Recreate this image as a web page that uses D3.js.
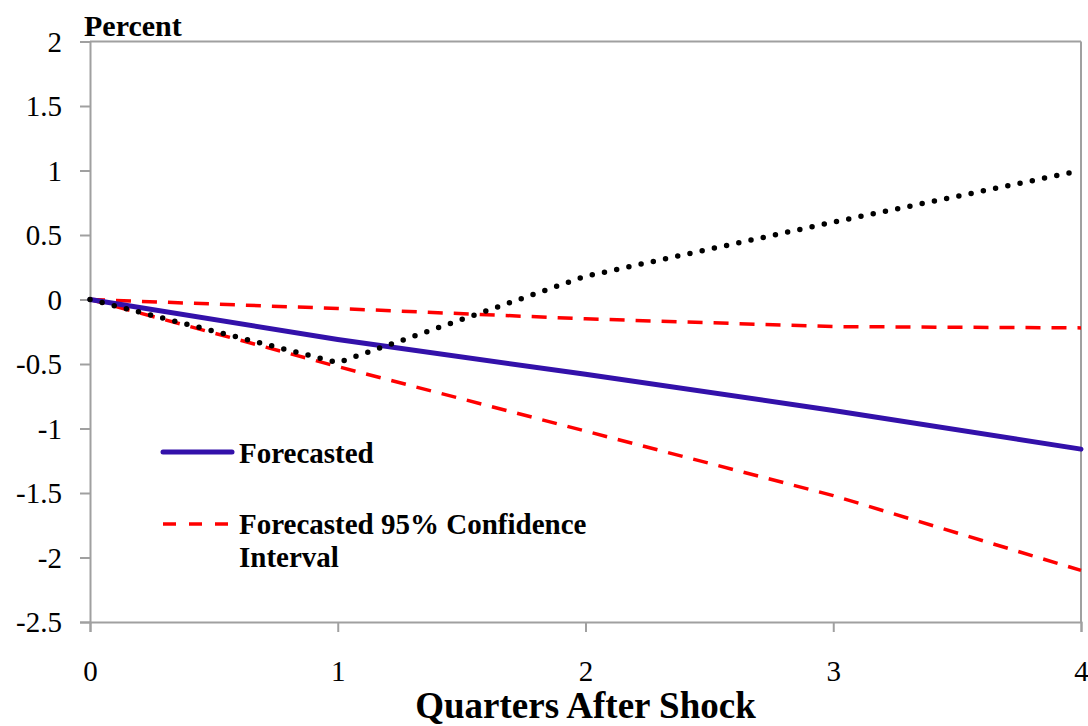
<!DOCTYPE html>
<html>
<head>
<meta charset="utf-8">
<script src="https://cdn.jsdelivr.net/npm/d3@7"></script>
<style>
  html, body { margin: 0; padding: 0; background: #fff; }
  svg { display: block; }
  text { font-family: "Liberation Serif", "Times New Roman", serif; fill: #000; }
</style>
</head>
<body>
<svg id="chart" width="1088" height="726"></svg>
<script>
// ---- data ----
const quarters = [0, 1, 2, 3, 4];
const forecasted = [0, -0.31, -0.58, -0.86, -1.16];
const ciUpper = [0, -0.07, -0.15, -0.21, -0.22];
const ciLower = [0, -0.52, -1.02, -1.52, -2.10];
const actual = [0, -0.49, 0.18, 0.60, 1.00];
const yTicks = [2, 1.5, 1, 0.5, 0, -0.5, -1, -1.5, -2, -2.5];
const xTicks = [0, 1, 2, 3, 4];
const yTitle = "Percent";
const xTitle = "Quarters After Shock";
const legendLabels = ["Forecasted", ["Forecasted 95% Confidence", "Interval"]];

// ---- layout ----
const svg = d3.select("#chart");
const mLeft = 90, mRight = 1081, mTop = 41.5, mBottom = 622;
const x = d3.scaleLinear().domain([0, 4]).range([mLeft, mRight]);
const y = d3.scaleLinear().domain([-2.5, 2]).range([mBottom, mTop]);
const frame = "#a0a0a0";
const serif = "'Liberation Serif', 'Times New Roman', serif";

// frame (top & right)
svg.append("line").attr("x1", mLeft).attr("x2", mRight).attr("y1", mTop).attr("y2", mTop)
  .attr("stroke", frame).attr("stroke-width", 2);
svg.append("line").attr("x1", mRight).attr("x2", mRight).attr("y1", mTop).attr("y2", mBottom)
  .attr("stroke", frame).attr("stroke-width", 2);

// y axis
const yAxis = svg.append("g").attr("transform", `translate(${mLeft},0)`)
  .call(d3.axisLeft(y).tickValues(yTicks).tickSize(10).tickPadding(18)
    .tickFormat(d => String(d)));
yAxis.attr("font-family", null).attr("font-size", null);
yAxis.select(".domain").attr("stroke", frame).attr("stroke-width", 2);
yAxis.selectAll(".tick line").attr("stroke", frame).attr("stroke-width", 2);
yAxis.selectAll(".tick text").style("font-size", "29px")
  .style("font-family", serif).attr("fill", "#000").attr("dy", "0.33em");

// x axis
const xAxis = svg.append("g").attr("transform", `translate(0,${mBottom})`)
  .call(d3.axisBottom(x).tickValues(xTicks).tickSize(10).tickPadding(33)
    .tickFormat(d3.format("d")));
xAxis.attr("font-family", null).attr("font-size", null);
xAxis.select(".domain").attr("stroke", frame).attr("stroke-width", 2);
xAxis.selectAll(".tick line").attr("stroke", frame).attr("stroke-width", 2);
xAxis.selectAll(".tick text").style("font-size", "29px")
  .style("font-family", serif).attr("fill", "#000").attr("dy", "0.55em");

// titles
svg.append("text").attr("x", 84).attr("y", 36).style("font-size", "30px")
  .style("font-family", serif).attr("font-weight", "bold").text(yTitle);
svg.append("text").attr("x", (mLeft + mRight) / 2).attr("y", 718).attr("text-anchor", "middle")
  .style("font-size", "37px").style("font-family", serif).attr("font-weight", "bold").text(xTitle);

// lines
const line = d3.line().x((d, i) => x(quarters[i])).y(d => y(d));
svg.append("path").datum(ciUpper).attr("d", line).attr("fill", "none")
  .attr("stroke", "#ff0000").attr("stroke-width", 3.5).attr("stroke-dasharray", "15,11");
svg.append("path").datum(ciLower).attr("d", line).attr("fill", "none")
  .attr("stroke", "#ff0000").attr("stroke-width", 3.5).attr("stroke-dasharray", "15,11");
svg.append("path").datum(forecasted).attr("d", line).attr("fill", "none")
  .attr("stroke", "#3311aa").attr("stroke-width", 5).attr("stroke-linecap", "round");
svg.append("path").datum(actual).attr("d", line).attr("fill", "none")
  .attr("stroke", "#000").attr("stroke-width", 5.5).attr("stroke-linecap", "round")
  .attr("stroke-dasharray", "0,12.5");

// legend
const lg = svg.append("g");
lg.append("line").attr("x1", 163).attr("x2", 232).attr("y1", 452).attr("y2", 452)
  .attr("stroke", "#3311aa").attr("stroke-width", 5).attr("stroke-linecap", "round");
lg.append("text").attr("x", 239).attr("y", 463).style("font-size", "29px")
  .style("font-family", serif).attr("font-weight", "bold").text(legendLabels[0]);
lg.append("line").attr("x1", 163).attr("x2", 232).attr("y1", 524).attr("y2", 524)
  .attr("stroke", "#ff0000").attr("stroke-width", 3.5).attr("stroke-dasharray", "13,13");
const t2 = lg.append("text").attr("x", 239).attr("y", 534).style("font-size", "29px")
  .style("font-family", serif).attr("font-weight", "bold");
legendLabels[1].forEach((s, i) => {
  t2.append("tspan").attr("x", 239).attr("dy", i === 0 ? 0 : 33).text(s);
});
</script>
</body>
</html>
